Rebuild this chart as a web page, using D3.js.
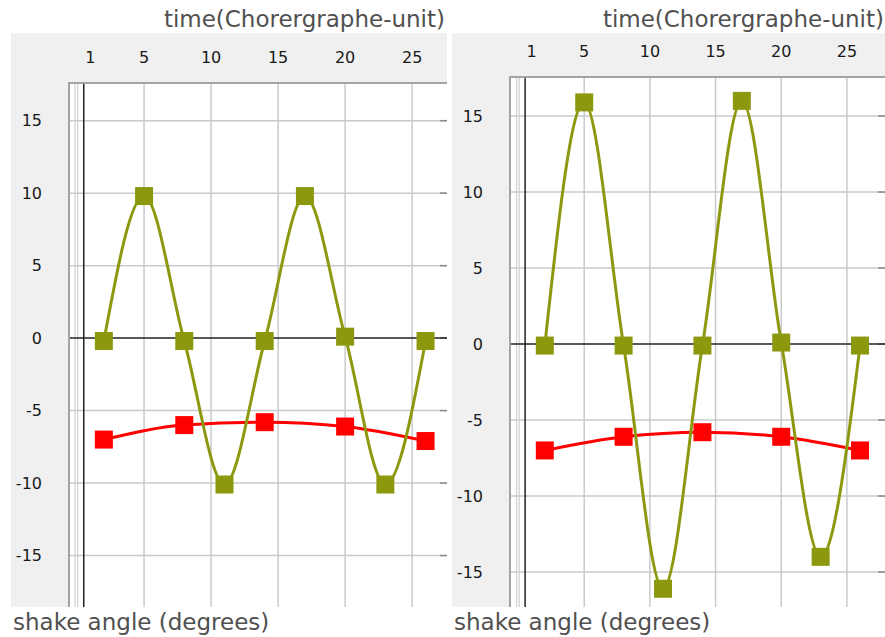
<!DOCTYPE html>
<html><head><meta charset="utf-8">
<script src="https://cdn.jsdelivr.net/npm/d3@7"></script>
<style>body{margin:0;background:#fff}svg{display:block}</style>
</head><body>
<svg id="chart" width="885" height="637"></svg>
<script>
// ---- data ----
const xTickLabels = [1, 5, 10, 15, 20, 25];
const xGridValues = [5, 10, 15, 20, 25];
const yTickLabels = [-15, -10, -5, 0, 5, 10, 15];
const greenTimes = [2, 5, 8, 11, 14, 17, 20, 23, 26];
const redTimes = [2, 8, 14, 20, 26];
const greenLeft = [-0.2, 9.8, -0.2, -10.1, -0.2, 9.8, 0.1, -10.1, -0.2];
const redLeft = [-7.0, -6.0, -5.8, -6.1, -7.1];
const greenRight = [-0.1, 15.9, -0.1, -16.1, -0.1, 16.0, 0.1, -14.0, -0.1];
const redRight = [-7.0, -6.1, -5.8, -6.1, -7.0];
const xTitle = "time(Chorergraphe-unit)";
const yTitle = "shake angle (degrees)";

const GREEN = "#8c990f", RED = "#ff0000";
const svg = d3.select("#chart");

function drawPanel(p) {
  const g = svg.append("g");
  g.append("rect").attr("x", p.left).attr("y", 33).attr("width", p.right - p.left).attr("height", 607 - 33).attr("fill", "#f0f0f0");
  const x = d3.scaleLinear().domain(p.xDomain).range([p.plotLeft, p.right]);
  const y = d3.scaleLinear().domain(p.yDomain).range([607, p.plotTop]);
  g.append("rect").attr("x", p.plotLeft).attr("y", p.plotTop).attr("width", p.right - p.plotLeft).attr("height", 607 - p.plotTop).attr("fill", "#fff");
  g.append("g").selectAll("line").data(xGridValues).join("line")
    .attr("x1", d => x(d)).attr("x2", d => x(d)).attr("y1", p.plotTop).attr("y2", 607)
    .attr("stroke", "#cacaca").attr("stroke-width", 1.5);
  g.append("g").selectAll("line").data([-0.15, 0.05]).join("line")
    .attr("x1", d => x(d)).attr("x2", d => x(d)).attr("y1", p.plotTop).attr("y2", 607)
    .attr("stroke", "#cfcfcf").attr("stroke-width", 1.2);
  g.append("g").selectAll("line").data(yTickLabels.filter(v => v !== 0)).join("line")
    .attr("x1", p.plotLeft).attr("x2", p.right).attr("y1", d => y(d)).attr("y2", d => y(d))
    .attr("stroke", "#cacaca").attr("stroke-width", 1.5);
  g.append("g").selectAll("line").data(yTickLabels).join("line")
    .attr("x1", p.right - 7).attr("x2", p.right).attr("y1", d => y(d)).attr("y2", d => y(d))
    .attr("stroke", "#8a8a8a").attr("stroke-width", 1.5);
  g.append("line").attr("x1", p.plotLeft).attr("x2", p.right).attr("y1", y(0)).attr("y2", y(0))
    .attr("stroke", "#222").attr("stroke-width", 1.5);
  g.append("line").attr("x1", x(0.5)).attr("x2", x(0.5)).attr("y1", p.plotTop).attr("y2", 607)
    .attr("stroke", "#222").attr("stroke-width", 1.5);
  g.append("path").attr("d", `M${p.plotLeft},607V${p.plotTop}H${p.right}`)
    .attr("fill", "none").attr("stroke", "#a0a4a8").attr("stroke-width", 2);

  g.append("g").selectAll("text").data(xTickLabels).join("text")
    .attr("x", d => x(d)).attr("y", p.xLabelY).attr("text-anchor", "middle").attr("dominant-baseline", "central")
    .attr("font-family", "DejaVu Sans").attr("font-size", 16).attr("fill", "#1a1a1a").text(d => d);
  g.append("g").selectAll("text").data(yTickLabels).join("text")
    .attr("x", p.left + 31).attr("y", d => y(d)).attr("text-anchor", "end").attr("dominant-baseline", "central")
    .attr("font-family", "DejaVu Sans").attr("font-size", 16).attr("fill", "#1a1a1a").text(d => d);

  g.append("text").attr("x", p.titleRight).attr("y", 27).attr("text-anchor", "end")
    .attr("font-family", "DejaVu Sans").attr("font-size", 23).attr("fill", "#505050").text(xTitle);
  g.append("text").attr("x", p.left + 2).attr("y", 630)
    .attr("font-family", "DejaVu Sans").attr("font-size", 23).attr("fill", "#505050").text(yTitle);

  const line = d3.line().x(d => x(d[0])).y(d => y(d[1])).curve(d3.curveMonotoneX);
  const red = redTimes.map((t, i) => [t, p.red[i]]);
  const green = greenTimes.map((t, i) => [t, p.green[i]]);
  g.append("path").datum(red).attr("d", line).attr("fill", "none").attr("stroke", RED).attr("stroke-width", 3);
  g.append("path").datum(green).attr("d", line).attr("fill", "none").attr("stroke", GREEN).attr("stroke-width", 3);
  const s = 18;
  g.append("g").selectAll("rect").data(red).join("rect")
    .attr("x", d => x(d[0]) - s / 2).attr("y", d => y(d[1]) - s / 2).attr("width", s).attr("height", s).attr("fill", RED);
  g.append("g").selectAll("rect").data(green).join("rect")
    .attr("x", d => x(d[0]) - s / 2).attr("y", d => y(d[1]) - s / 2).attr("width", s).attr("height", s).attr("fill", GREEN);
}

drawPanel({left: 11, right: 447, plotLeft: 69, plotTop: 83, xDomain: [-0.6, 27.6], yDomain: [-18.55, 17.6],
  xLabelY: 57, titleRight: 445, green: greenLeft, red: redLeft});
drawPanel({left: 452, right: 885, plotLeft: 510, plotTop: 77, xDomain: [-0.65, 27.9], yDomain: [-17.3, 17.57],
  xLabelY: 51, titleRight: 884, green: greenRight, red: redRight});
</script>
</body></html>
